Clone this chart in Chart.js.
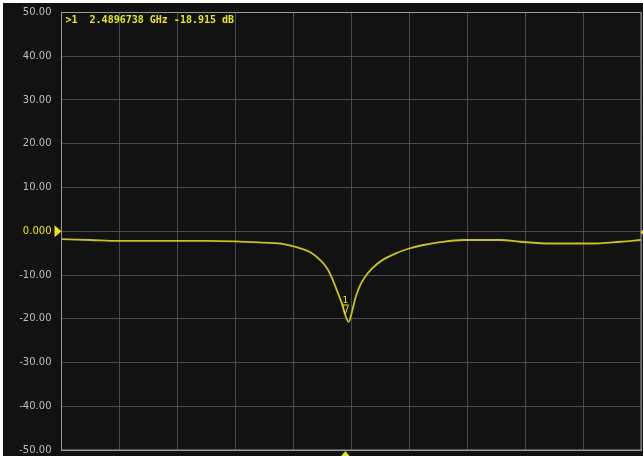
<!DOCTYPE html>
<html>
<head>
<meta charset="utf-8">
<script src="https://cdn.jsdelivr.net/npm/chart.js@4.4.1/dist/chart.umd.min.js"></script>
<style>
  html, body { margin: 0; padding: 0; background: #fff; }
  #wrap { position: absolute; left: 3px; top: 3px; width: 640px; height: 453px; background: #121212; }
</style>
</head>
<body>
<div id="wrap"><canvas id="myChart"></canvas></div>
<script>
// trace data, frequency in GHz and S11 in dB
const freqGHz = [2.3917, 2.4017, 2.4117, 2.4217, 2.4317, 2.4417, 2.4517, 2.4617, 2.4672, 2.4707,
  2.4741, 2.4776, 2.4810, 2.4834, 2.4851, 2.4869, 2.4886, 2.4896, 2.4908, 2.4920, 2.4931,
  2.4948, 2.4965, 2.4989, 2.5024, 2.5069, 2.5114, 2.5162, 2.5224, 2.5303, 2.5431, 2.5500,
  2.5603, 2.5741, 2.5845, 2.5917];
const s11dB = [-1.8, -2.0, -2.2, -2.2, -2.2, -2.2, -2.3, -2.6, -2.8, -3.3,
  -3.9, -4.8, -6.6, -8.5, -10.75, -13.8, -16.8, -19.1, -20.7, -18.3, -15.3,
  -12.3, -10.4, -8.5, -6.6, -5.1, -4.0, -3.2, -2.5, -2.0, -2.0, -2.4,
  -2.8, -2.8, -2.4, -2.0];
const yTicks = [50, 40, 30, 20, 10, 0, -10, -20, -30, -40, -50];
const xStart = 2.3917, xStep = 0.02, xDivs = 10;
const markerFreq = 2.4896738;
const markerDb = -18.915;
const markerText = '>1  2.4896738 GHz -18.915 dB';

const yellow = '#e6e61c';
const traceColor = '#c9c21e';

const markers = {
  id: 'markers',
  afterDatasetsDraw(chart) {
    const ctx = chart.ctx, a = chart.chartArea;
    const xs = chart.scales.x, ys = chart.scales.y;
    const px = xs.getPixelForValue(markerFreq);
    const py = ys.getPixelForValue(markerDb);
    const y0 = ys.getPixelForValue(0);
    ctx.save();
    // marker 1 on trace
    ctx.strokeStyle = yellow;
    ctx.lineWidth = 1;
    ctx.beginPath();
    ctx.moveTo(px - 3, py - 9);
    ctx.lineTo(px + 3, py - 9);
    ctx.lineTo(px, py);
    ctx.closePath();
    ctx.stroke();
    ctx.fillStyle = yellow;
    ctx.font = '9px "DejaVu Sans"';
    ctx.textAlign = 'center';
    ctx.textBaseline = 'bottom';
    ctx.fillText('1', px, py - 9);
    // reference level arrow (left)
    ctx.beginPath();
    ctx.moveTo(a.left - 7, y0 - 6);
    ctx.lineTo(a.left, y0);
    ctx.lineTo(a.left - 7, y0 + 6);
    ctx.closePath();
    ctx.fill();
    // right edge arrow
    ctx.beginPath();
    ctx.moveTo(a.right + 5, y0 - 4);
    ctx.lineTo(a.right - 1, y0 + 1);
    ctx.lineTo(a.right + 5, y0 + 6);
    ctx.closePath();
    ctx.fill();
    // marker position arrow (bottom)
    ctx.beginPath();
    ctx.moveTo(px - 5, a.bottom + 7);
    ctx.lineTo(px, a.bottom + 1);
    ctx.lineTo(px + 5, a.bottom + 7);
    ctx.closePath();
    ctx.fill();
    // marker readout
    ctx.font = 'bold 10px "DejaVu Sans Mono"';
    ctx.textAlign = 'left';
    ctx.textBaseline = 'middle';
    ctx.fillText(markerText, a.left + 4, a.top + 8);
    ctx.restore();
  }
};

const ctx = document.getElementById('myChart').getContext('2d');
const chart = new Chart(ctx, {
  type: 'line',
  data: {
    datasets: [{
      data: freqGHz.map((f, i) => ({ x: f, y: s11dB[i] })),
      borderColor: traceColor,
      borderWidth: 1.8,
      pointRadius: 0,
      cubicInterpolationMode: 'monotone',
      clip: 2
    }]
  },
  options: {
    responsive: true,
    maintainAspectRatio: false,
    animation: false,
    layout: { padding: { top: 9.5, right: 2, bottom: 6, left: 0 } },
    plugins: { legend: { display: false }, tooltip: { enabled: false } },
    scales: {
      x: {
        type: 'linear',
        min: xStart,
        max: xStart + xStep * xDivs,
        afterBuildTicks: (s) => {
          s.ticks = [];
          for (let i = 0; i <= xDivs; i++) s.ticks.push({ value: xStart + i * xStep });
        },
        afterFit: (s) => { s.height = 0; s.paddingLeft = 0; s.paddingRight = 0; },
        ticks: { display: false },
        grid: { color: '#4a4a4a', lineWidth: 1, drawTicks: false },
        border: { color: '#9a9a9a', width: 1 }
      },
      y: {
        min: -50,
        max: 50,
        afterBuildTicks: (s) => { s.ticks = yTicks.map(v => ({ value: v })); },
        afterFit: (s) => { s.width = 58.5; s.paddingTop = 0; s.paddingBottom = 0; },
        ticks: {
          padding: 10,
          color: (c) => c.tick && c.tick.value === 0 ? yellow : '#bdbdbd',
          font: { family: 'DejaVu Sans', size: 10 },
          callback: (v) => v === 0 ? '0.000' : v.toFixed(2)
        },
        grid: { color: '#4a4a4a', lineWidth: 1, drawTicks: false },
        border: { color: '#9a9a9a', width: 1 }
      }
    }
  },
  plugins: [markers, {
    id: 'frame',
    afterDraw(c) {
      const a = c.chartArea, g = c.ctx;
      g.save();
      g.strokeStyle = '#9a9a9a';
      g.lineWidth = 1;
      g.strokeRect(a.left, a.top, a.right - a.left, a.bottom - a.top);
      g.restore();
    }
  }]
});
</script>
</body>
</html>
